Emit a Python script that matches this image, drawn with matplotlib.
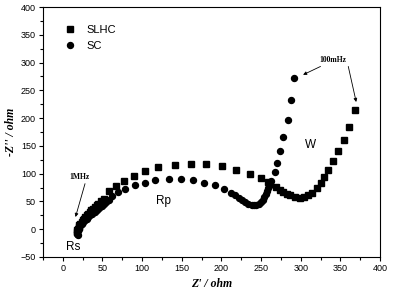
import matplotlib
matplotlib.use('Agg')
import matplotlib.pyplot as plt
from matplotlib.ticker import MultipleLocator

# Nyquist data (Z' , -Z'')
slhc_re = [18, 18, 19, 20, 21, 22, 24, 25, 27, 28, 30, 32, 34, 36, 38, 40, 43, 45, 48, 52,
           58, 67, 77, 90, 104, 120, 142, 162, 181, 201, 219, 236, 250, 259,
           269, 274, 278, 283, 287, 293, 299, 304, 309, 314, 320, 325, 330, 335, 341, 347, 355, 361, 368]
slhc_im = [-5, -2, 1, 4, 7, 10, 13, 16, 19, 22, 25, 28, 31, 34, 37, 40, 43, 46, 50, 55,
           69, 78, 87, 96, 104, 112, 116, 118, 117, 113, 106, 100, 93, 85,
           76, 70, 67, 63, 61, 58, 57, 58, 61, 65, 75, 84, 94, 107, 122, 140, 161, 184, 214]

sc_re = [19, 18, 18, 19, 20, 21, 22, 24, 26, 28, 30, 32, 34, 37, 40, 43, 46, 49, 52, 55, 58,
         62, 70, 79, 91, 104, 116, 134, 149, 164, 178, 192, 203, 212, 217, 222, 226, 230, 234,
         238, 241, 244, 247, 250, 252, 254, 256, 257, 259, 261, 263, 267, 270, 274, 278, 284, 288, 292]
sc_im = [-11, -8, -5, -2, 1, 4, 7, 10, 13, 16, 19, 22, 25, 28, 31, 35, 38, 42, 45, 49, 53,
         59, 67, 73, 79, 84, 89, 91, 91, 88, 84, 79, 73, 66, 61, 57, 53, 49, 46,
         44, 43, 44, 46, 49, 53, 58, 63, 68, 74, 80, 87, 103, 119, 141, 166, 196, 232, 273]

fig = plt.figure(figsize=(3.93, 2.97), dpi=100)
ax = fig.add_axes([0.1094, 0.1347, 0.8575, 0.8417])

ax.plot(slhc_re, slhc_im, 's', color='black', markersize=3.8, label='SLHC')
ax.plot(sc_re, sc_im, 'o', color='black', markersize=4.3, label='SC')

ax.set_xlim(-25, 400)
ax.set_ylim(-50, 400)
ax.xaxis.set_major_locator(MultipleLocator(50))
ax.xaxis.set_minor_locator(MultipleLocator(25))
ax.yaxis.set_major_locator(MultipleLocator(50))
ax.yaxis.set_minor_locator(MultipleLocator(25))
ax.tick_params(which='major', direction='out', length=3, width=0.8, labelsize=6.5, pad=2)
ax.tick_params(which='minor', direction='out', length=2, width=0.8)
for lab in ax.get_xticklabels() + ax.get_yticklabels():
    lab.set_family('Liberation Sans')
for s in ax.spines.values():
    s.set_linewidth(0.8)

serif = {'family': 'Liberation Serif', 'weight': 'bold', 'style': 'italic', 'size': 8.5}
ax.set_xlabel("Z' / ohm", fontdict=serif, labelpad=4)
ax.set_ylabel("-Z'' / ohm", fontdict=serif, labelpad=3)

leg = ax.legend(loc='upper left', bbox_to_anchor=(0.05, 0.945), frameon=False,
                prop={'family': 'Liberation Sans', 'size': 8}, handlelength=1.0,
                handletextpad=1.0, labelspacing=0.55, borderaxespad=0)

ax.text(127, 50, 'Rp', family='Liberation Sans', fontsize=8.5, ha='center', va='center')
ax.text(13, -32, 'Rs', family='Liberation Sans', fontsize=8.5, ha='center', va='center')
ax.text(312, 152, 'W', family='Liberation Sans', fontsize=8.5, ha='center', va='center')

small = dict(family='Liberation Serif', weight='bold', fontsize=5.5)
arrow = dict(arrowstyle='-|>', color='black', lw=0.6, mutation_scale=5, shrinkA=0, shrinkB=0)
ax.annotate('', xy=(16, 22), xytext=(28, 82), arrowprops=arrow)
ax.text(21, 94, '1MHz', ha='center', va='center', **small)
ax.annotate('', xy=(303, 278), xytext=(325, 293), arrowprops=arrow)
ax.annotate('', xy=(370, 229), xytext=(360, 293), arrowprops=arrow)
ax.text(341, 305, '100mHz', ha='center', va='center', **small)

fig.savefig('out.png', dpi=100)
